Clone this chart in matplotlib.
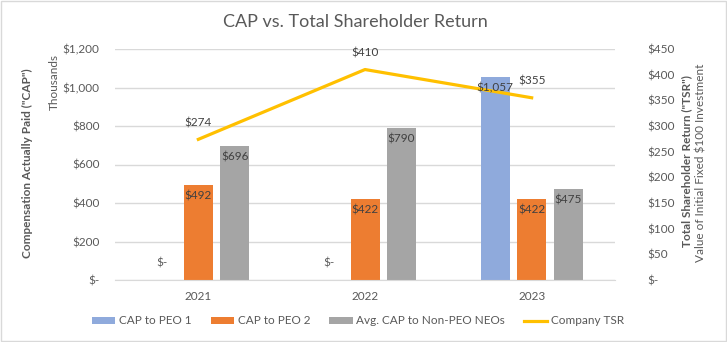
import matplotlib
matplotlib.use("Agg")
import matplotlib.pyplot as plt
import numpy as np
from matplotlib.patches import Rectangle

years = ["2021", "2022", "2023"]
cap_peo1 = [0, 0, 1057]
cap_peo2 = [492, 422, 422]
cap_neo = [696, 790, 475]
tsr = [274, 410, 355]

plt.rcParams["font.family"] = ["Lato", "DejaVu Sans"]
txt = "#595959"
grid = "#D9D9D9"
fs = 8.5


def money(v):
    return "$-" if v == 0 else "${:,.0f}".format(v)


fig = plt.figure(figsize=(7.27, 3.42), dpi=100)
ax = fig.add_axes([115 / 727, 62 / 342, 500 / 727, 231 / 342])
ax2 = ax.twinx()

x = np.arange(len(years))
w = 0.174
off = 0.219
series = [(cap_peo1, "#8FAADC", "CAP to PEO 1", -off),
          (cap_peo2, "#ED7D31", "CAP to PEO 2", 0),
          (cap_neo, "#A5A5A5", "Avg. CAP to Non-PEO NEOs", off)]
for vals, col, lab, o in series:
    ax.bar(x + o, vals, w, color=col, label=lab, zorder=2)
    # labels go on ax2 so they sit above the TSR line
    for xi, v in zip(x + o, vals):
        if v == 0:
            ax2.annotate(money(v), (xi, v), xycoords=ax.transData, xytext=(0, 8),
                         textcoords="offset points", ha="center", va="bottom",
                         fontsize=fs, color=txt, zorder=5)
        else:
            ax2.annotate(money(v), (xi, v), xycoords=ax.transData, xytext=(0, -4),
                         textcoords="offset points", ha="center", va="top",
                         fontsize=fs, color="#404040", zorder=5)

ax2.plot(x, tsr, color="#FFC000", lw=2.3, label="Company TSR", zorder=3)
for xi, v in zip(x, tsr):
    ax2.annotate(money(v), (xi, v), xytext=(0, 8), textcoords="offset points",
                 ha="center", va="bottom", fontsize=fs, color="#404040")

ax.set_xlim(-0.5, 2.5)
ax.set_ylim(0, 1200)
ax.set_yticks(range(0, 1201, 200))
ax.set_yticklabels([money(v) for v in range(0, 1201, 200)])
ax2.set_ylim(0, 450)
ax2.set_yticks(range(0, 451, 50))
ax2.set_yticklabels([money(v) for v in range(0, 451, 50)])
ax.set_xticks(x)
ax.set_xticklabels(years)

ax.grid(axis="y", color=grid, lw=1, zorder=0)
ax.set_axisbelow(True)
for a in (ax, ax2):
    for s in a.spines.values():
        s.set_visible(False)
ax.spines["bottom"].set_visible(True)
ax.spines["bottom"].set_color(grid)
ax.tick_params(axis="y", length=0, labelsize=fs, labelcolor=txt, pad=11)
ax.tick_params(axis="x", length=0, labelsize=fs, labelcolor=txt, pad=8)
ax2.tick_params(axis="y", length=0, labelsize=fs, labelcolor=txt, pad=23)
for t in ax2.get_yticklabels():
    t.set_ha("left")

fig.text(27 / 727, 1 - 163 / 342, 'Compensation Actually Paid ("CAP")', rotation=90,
         ha="center", va="center", fontsize=fs, fontweight="bold", color=txt)
fig.text(54 / 727, 1 - 82 / 342, "Thousands", rotation=90,
         ha="center", va="center", fontsize=fs, color=txt)
fig.text(687 / 727, 1 - 161 / 342, 'Total Shareholder Return ("TSR")', rotation=90,
         ha="center", va="center", fontsize=fs, fontweight="bold", color=txt)
fig.text(701 / 727, 1 - 163 / 342, "Value of Initial Fixed $100 Investment", rotation=90,
         ha="center", va="center", fontsize=fs, color=txt)
fig.text(355 / 727, 1 - 22 / 342, "CAP vs. Total Shareholder Return",
         ha="center", va="center", fontsize=13, color=txt)

h1, l1 = ax.get_legend_handles_labels()
h2, l2 = ax2.get_legend_handles_labels()
fig.legend(h1 + h2, l1 + l2, loc="center", bbox_to_anchor=(358 / 727, 1 - 321 / 342),
           ncol=4, frameon=False, fontsize=fs, labelcolor=txt, handlelength=2.0,
           handleheight=0.6, handletextpad=0.3, columnspacing=1.6)

fig.add_artist(Rectangle((0.001, 0.002), 0.997, 0.995, transform=fig.transFigure,
                         fill=False, edgecolor=grid, lw=1))

fig.savefig("out.png", dpi=100)
